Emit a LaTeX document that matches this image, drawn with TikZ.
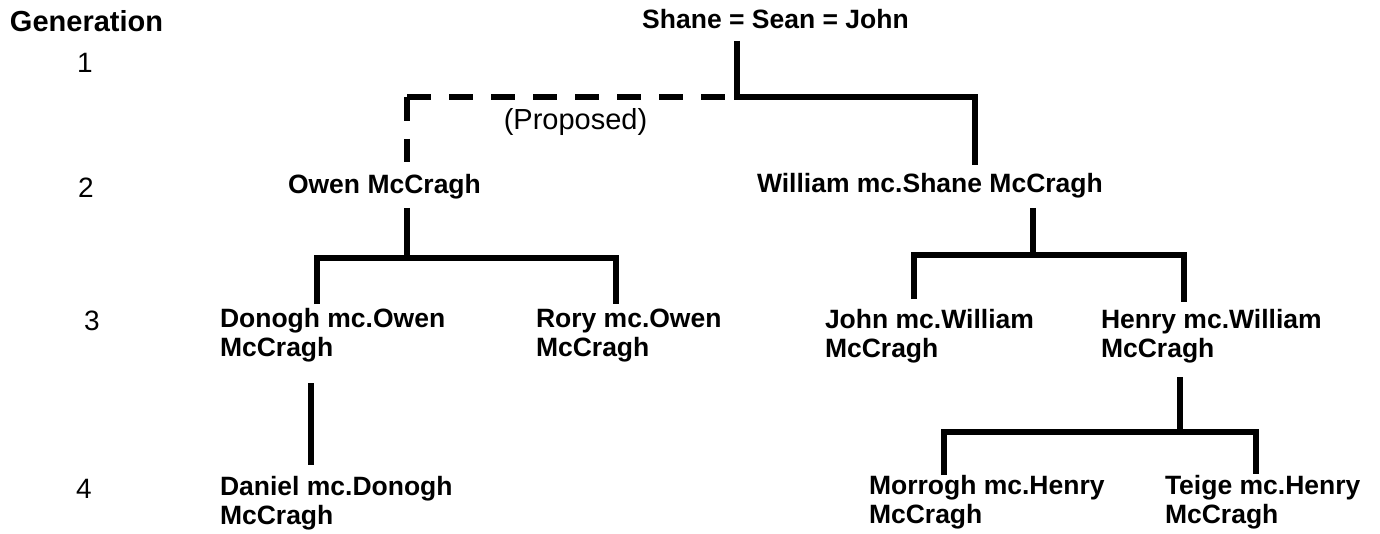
\documentclass[tikz,border=0pt]{standalone}
\usepackage{fontspec}
\setmainfont{Liberation Sans}
\begin{document}
\begin{tikzpicture}[x=0.5pt,y=-0.5pt,
  every node/.style={inner sep=0pt,outer sep=0pt},
  person/.style={anchor=base west,align=left,font=\fontsize{13.25}{14.5}\selectfont\bfseries},
  gen/.style={anchor=base,font=\fontsize{14}{15}\selectfont},
  link/.style={line width=3.3pt},
  proposed/.style={line width=3.3pt,dash pattern=on 12pt off 9pt}]
\useasboundingbox (0,0) rectangle (1380,534);
% labels
\node[anchor=base west,font=\fontsize{14.5}{15}\selectfont\bfseries] (genlabel) at (10,32) {Generation};
\node[gen] (g1) at (85,73) {1};
\node[gen] (g2) at (86,198) {2};
\node[gen] (g3) at (92,330) {3};
\node[gen] (g4) at (84,498) {4};
% people
\node[anchor=base,font=\fontsize{13.25}{14.5}\selectfont\bfseries] (top) at (775.5,29) {Shane = Sean = John};
\node[anchor=base,font=\fontsize{14.5}{15}\selectfont] (prop) at (575.5,130) {(Proposed)};
\node[person] (owen) at (288,194) {Owen McCragh};
\node[person] (william) at (757,193) {William mc.Shane McCragh};
\node[person] (donogh) at (220,356) {Donogh mc.Owen\\McCragh};
\node[person] (rory) at (536,356) {Rory mc.Owen\\McCragh};
\node[person] (john) at (825,357) {John mc.William\\McCragh};
\node[person] (henry) at (1101,357) {Henry mc.William\\McCragh};
\node[person] (daniel) at (220,524) {Daniel mc.Donogh\\McCragh};
\node[person] (morrogh) at (869,523) {Morrogh mc.Henry\\McCragh};
\node[person] (teige) at (1165,523) {Teige mc.Henry\\McCragh};
% connector points
\coordinate (topstem) at (737,41);
\coordinate (topj) at (737,97);
\coordinate (propcorner) at (407,97);
\coordinate (owenin) at (407,162);
\coordinate (willin) at (975,165);
\coordinate (owenstem) at (407,208);
\coordinate (owenj) at (407,258);
\coordinate (donoghin) at (317,304);
\coordinate (roryin) at (616,304);
\coordinate (donoghstem) at (311,383);
\coordinate (danielin) at (311,465);
\coordinate (willstem) at (1033,208);
\coordinate (willj) at (1033,255);
\coordinate (johnin) at (914,299);
\coordinate (henryin) at (1184,302);
\coordinate (henrystem) at (1180,377);
\coordinate (henryj) at (1180,432);
\coordinate (morroghin) at (944,475);
\coordinate (teigein) at (1256,474);
% connectors
\draw[link] (topstem) -- (topj) -| (willin);
\draw[proposed] (propcorner) -- (topj);
\draw[proposed] (propcorner) -- (owenin);
\draw[link] (owenstem) -- (owenj);
\draw[link] (donoghin) |- (owenj) -| (roryin);
\draw[link] (donoghstem) -- (danielin);
\draw[link] (willstem) -- (willj);
\draw[link] (johnin) |- (willj) -| (henryin);
\draw[link] (henrystem) -- (henryj);
\draw[link] (morroghin) |- (henryj) -| (teigein);
\end{tikzpicture}
\end{document}
